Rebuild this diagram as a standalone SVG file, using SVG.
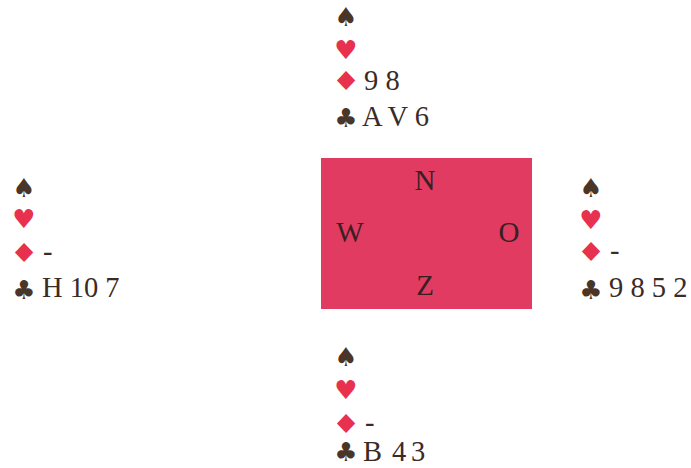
<svg xmlns="http://www.w3.org/2000/svg" width="691" height="468" viewBox="0 0 691 468">
  <style>
    .card { font-family: "Liberation Serif", "Times New Roman", serif; font-size: 28.5px; fill: #3a2b26; }
    .suit { font-family: "DejaVu Sans", sans-serif; font-size: 26px; text-anchor: middle; }
    .blk { fill: #4a3629; }
    .red { fill: #e8314f; }
    .seat { font-family: "Liberation Serif", "Times New Roman", serif; font-size: 29px; fill: #3a1f22; text-anchor: middle; }
  </style>
  <rect width="691" height="468" fill="#ffffff"/>

  <!-- table with compass seats -->
  <g id="table">
    <rect x="321" y="158" width="211" height="151" fill="#e13b62"/>
    <text class="seat" x="425" y="190">N</text>
    <text class="seat" x="350" y="242">W</text>
    <text class="seat" x="509" y="242">O</text>
    <text class="seat" x="425" y="295">Z</text>
  </g>

  <!-- North hand -->
  <g id="north">
    <text class="suit blk" x="346" y="26">♠</text>
    <text class="suit red" x="346" y="59">♥</text>
    <text class="suit red" transform="translate(346 90) scale(1.25 1)" x="0" y="0">♦</text>
    <text class="card" x="364" y="90">9 8</text>
    <text class="suit blk" x="346" y="127">♣</text>
    <text class="card" x="362" y="126">A V 6</text>
  </g>

  <!-- West hand -->
  <g id="west">
    <text class="suit blk" x="24" y="197">♠</text>
    <text class="suit red" x="24" y="228">♥</text>
    <text class="suit red" transform="translate(24 262) scale(1.25 1)" x="0" y="0">♦</text>
    <text class="card" x="43" y="261">-</text>
    <text class="suit blk" x="24" y="299">♣</text>
    <text class="card" x="42" y="297">H 10 7</text>
  </g>

  <!-- East hand -->
  <g id="east">
    <text class="suit blk" x="591" y="197">♠</text>
    <text class="suit red" x="591" y="229">♥</text>
    <text class="suit red" transform="translate(591 261) scale(1.25 1)" x="0" y="0">♦</text>
    <text class="card" x="610" y="260">-</text>
    <text class="suit blk" x="591" y="299">♣</text>
    <text class="card" x="609" y="297">9 8 5 2</text>
  </g>

  <!-- South hand -->
  <g id="south">
    <text class="suit blk" x="346" y="366">♠</text>
    <text class="suit red" x="346" y="399">♥</text>
    <text class="suit red" transform="translate(346 433) scale(1.25 1)" x="0" y="0">♦</text>
    <text class="card" x="365" y="432">-</text>
    <text class="suit blk" x="346" y="461">♣</text>
    <text class="card" y="461"><tspan x="363">B</tspan><tspan x="392">4</tspan><tspan x="411">3</tspan></text>
  </g>
</svg>
